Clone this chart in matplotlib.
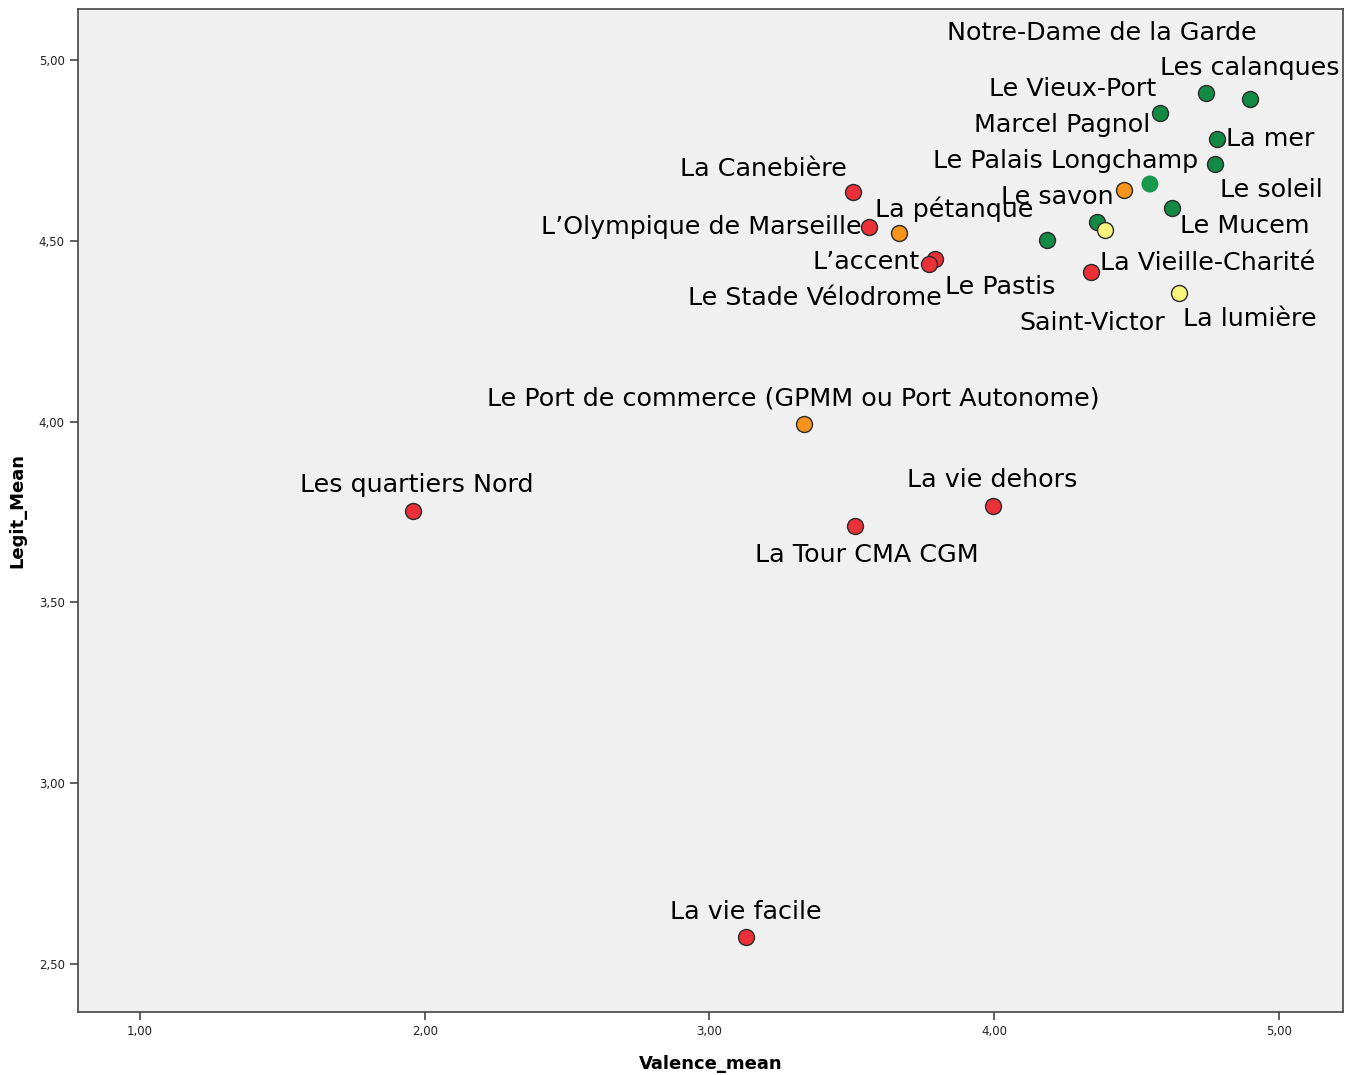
import matplotlib
matplotlib.use("Agg")
import matplotlib.pyplot as plt
from matplotlib.ticker import FuncFormatter

# data
names = ["Les calanques", "Notre-Dame de la Garde", "Le Vieux-Port", "La mer",
         "Le soleil", "Marcel Pagnol", "Le savon", "Le Mucem",
         "Le Palais Longchamp", "Saint-Victor", "Le Pastis", "La Vieille-Charité",
         "La lumière", "La Canebière", "L\u2019Olympique de Marseille", "La pétanque",
         "L\u2019accent", "Le Stade Vélodrome",
         "Le Port de commerce (GPMM ou Port Autonome)", "Les quartiers Nord",
         "La vie dehors", "La Tour CMA CGM", "La vie facile"]
valence = [4.898, 4.744, 4.582, 4.782, 4.775, 4.547, 4.456, 4.624, 4.361, 4.389,
           4.185, 4.340, 4.649, 3.504, 3.560, 3.666, 3.792, 3.771, 3.332, 1.959,
           3.996, 3.511, 3.128]
legit = [4.892, 4.909, 4.853, 4.781, 4.712, 4.657, 4.640, 4.591, 4.552, 4.530,
         4.502, 4.414, 4.355, 4.635, 4.538, 4.521, 4.450, 4.436, 3.993, 3.752,
         3.766, 3.711, 2.574]
groups = ["G", "G", "G", "G", "G", "G2", "O", "G", "G", "Y", "G", "R", "Y",
          "R", "R", "O", "R", "R", "O", "R", "R", "R", "R"]

# label offsets in pixels (dx, dy), to mimic SPSS label placement
offsets = [(0, 31), (-104, 60), (-87, 24), (53, 0), (57, -26), (-88, 59),
           (-67, -7), (73, -18), (-31, 61), (-13, -93), (-47, -47), (117, 9),
           (71, -26), (-90, 23), (-168, 0), (55, 24), (-69, -3), (-114, -34),
           (-11, 26), (4, 26), (-1, 26), (12, -29), (0, 25)]

colors = {"G": "#138a43", "G2": "#16994b", "O": "#f7941d", "Y": "#f9f57c", "R": "#ec3038"}

fig = plt.figure(figsize=(13.55, 10.75), dpi=100)
fig.patch.set_facecolor("white")
ax = fig.add_axes([0.0576, 0.0586, 0.9335, 0.933])
ax.set_facecolor("#f0f0f0")

for i in range(len(names)):
    g = groups[i]
    if g == "G2":
        ax.scatter(valence[i], legit[i], s=150, color=colors[g], edgecolors="none", zorder=3)
    else:
        ax.scatter(valence[i], legit[i], s=132, color=colors[g], edgecolors="#2a2a2a",
                   linewidths=1.0, zorder=3)
    ax.annotate(names[i], (valence[i], legit[i]), xytext=offsets[i],
                textcoords="offset pixels", ha="center", va="center",
                fontsize=18.3, family="DejaVu Sans", color="black", zorder=4)

ax.set_xlim(0.782, 5.225)
ax.set_ylim(2.367, 5.141)
ax.set_xticks([1, 2, 3, 4, 5])
ax.set_yticks([2.5, 3.0, 3.5, 4.0, 4.5, 5.0])
fmt = FuncFormatter(lambda v, p: ("%.2f" % v).replace(".", ","))
ax.xaxis.set_major_formatter(fmt)
ax.yaxis.set_major_formatter(fmt)
ax.tick_params(axis="both", direction="out", length=6, width=1.2, color="#444444",
               labelsize=8.5, labelcolor="#222222")
for sp in ax.spines.values():
    sp.set_color("#444444")
    sp.set_linewidth(1.2)

lab_font = ["Liberation Sans Narrow", "DejaVu Sans"]
ax.set_xlabel("Valence_mean", family=lab_font, fontweight="bold", fontsize=13, labelpad=12)
ax.set_ylabel("Legit_Mean", family=lab_font, fontweight="bold", fontsize=13, labelpad=9)

fig.savefig("out.png", dpi=100)
